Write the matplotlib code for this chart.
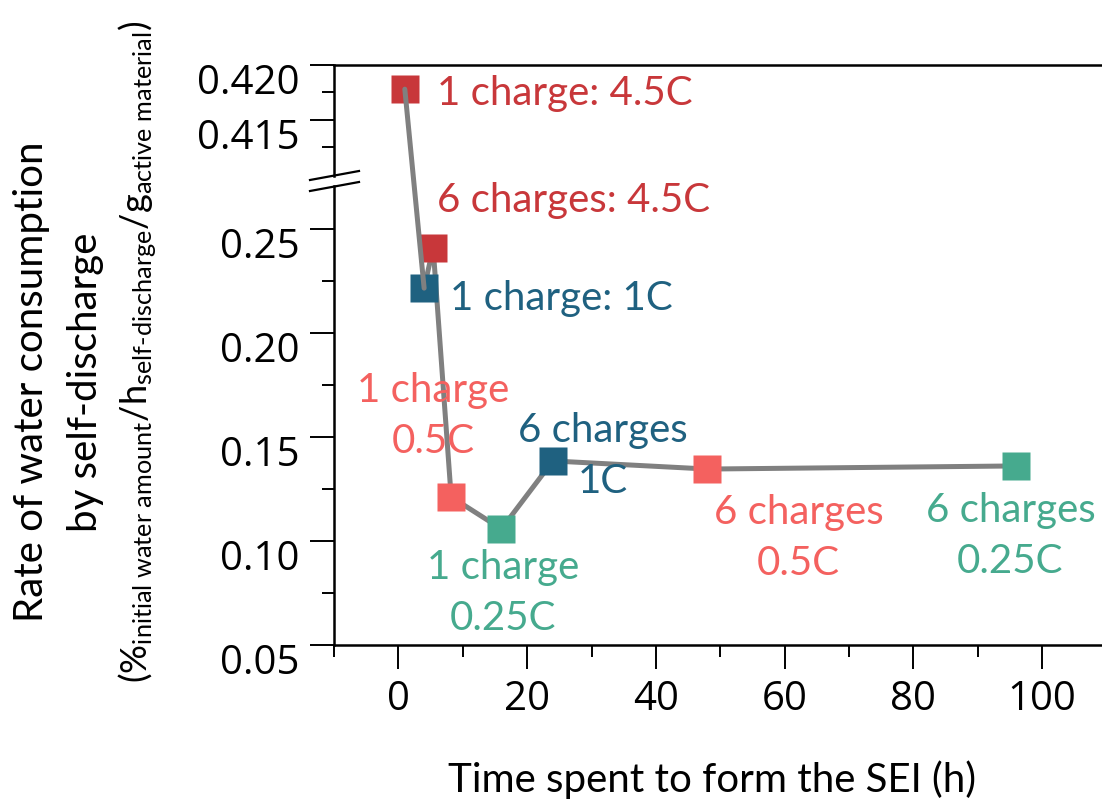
import matplotlib
matplotlib.use('Agg')
from matplotlib import pyplot as plt
from matplotlib.lines import Line2D
from matplotlib.patches import ConnectionPatch
import matplotlib.transforms as mtransforms

# Data
hours = [1, 4, 5.4, 8.2, 16, 24, 48, 96]
rates = [0.4178, 0.2216, 0.241, 0.1212, 0.1058, 0.1385, 0.1346, 0.1361]
labels = ['1 charge: 4.5C', '1 charge: 1C', '6 charges: 4.5C', '1 charge\n0.5C',
          '1 charge\n0.25C', '6 charges\n1C', '6 charges\n0.5C', '6 charges\n0.25C']

RED = '#C8373A'
BLUE = '#1F6180'
PINK = '#F4615F'
GREEN = '#46AA8E'
colors = [RED, BLUE, RED, PINK, GREEN, BLUE, PINK, GREEN]
# label offsets in pixels (dx, dy) and alignment
offsets = [(32, -4, 'left'), (26, -10, 'left'), (4, 47, 'left'), (-18, 81, 'center'),
           (2, -64, 'center'), (50, 5, 'center'), (91, -69, 'center'), (-6, -70, 'center')]

plt.rcParams['font.family'] = ['Lato', 'DejaVu Sans']
plt.rcParams['mathtext.fontset'] = 'custom'
plt.rcParams['mathtext.rm'] = 'Lato'
plt.rcParams['mathtext.it'] = 'Lato'

W, H = 1102, 807
fig = plt.figure(figsize=(W / 100, H / 100), dpi=100)

def px_axes(left, top, right, bottom):
    return fig.add_axes([left / W, 1 - bottom / H, (right - left) / W, (bottom - top) / H])

ax_top = px_axes(334, 65, 1102, 176)
ax = px_axes(334, 186, 1102, 645)

xlim = (-10, 109.3)
for a in (ax_top, ax):
    a.set_xlim(*xlim)
    a.spines['right'].set_visible(False)
    for s in a.spines.values():
        s.set_linewidth(1.8)
    a.tick_params(which='major', direction='out', length=17, width=1.4, labelsize=29, pad=8)
    a.tick_params(which='minor', direction='out', length=8.5, width=1.4)

ax_top.spines['bottom'].set_visible(False)
ax_top.set_ylim(0.4099, 0.420)
ax_top.set_yticks([0.415, 0.420])
ax_top.set_yticks([0.4125, 0.4175], minor=True)
ax_top.set_yticklabels(['0.415', '0.420'])
ax_top.set_xticks([])
ax_top.set_xticks([], minor=True)

ax.spines['top'].set_visible(False)
ax.set_ylim(0.05, 0.2707)
ax.set_yticks([0.05, 0.10, 0.15, 0.20, 0.25])
ax.set_yticks([0.075, 0.125, 0.175, 0.225], minor=True)
ax.set_yticklabels(['0.05', '0.10', '0.15', '0.20', '0.25'])
ax.set_xticks([0, 20, 40, 60, 80, 100])
ax.set_xticks([-10, 10, 30, 50, 70, 90], minor=True)

offset = mtransforms.ScaledTranslation(0, -0.14, fig.dpi_scale_trans)
for a in (ax_top, ax):
    for lab in a.get_yticklabels():
        lab.set_fontfamily('Open Sans')
        lab.set_transform(lab.get_transform() + offset)
for lab in ax.get_xticklabels():
    lab.set_fontfamily('Open Sans')

# line: first segment crosses the axis break
top_idx = [i for i, r in enumerate(rates) if r > 0.3]
low_idx = [i for i, r in enumerate(rates) if r <= 0.3]
con = ConnectionPatch(xyA=(hours[0], rates[0]), coordsA=ax_top.transData,
                      xyB=(hours[1], rates[1]), coordsB=ax.transData,
                      color='#808080', lw=3.6, zorder=1)
fig.add_artist(con)
ax.plot([hours[i] for i in low_idx], [rates[i] for i in low_idx],
        color='#808080', lw=3.6, zorder=2)

for i in range(len(hours)):
    a = ax_top if i in top_idx else ax
    a.plot(hours[i], rates[i], marker='s', ms=20, color=colors[i], mec='none',
           zorder=5, clip_on=False)
    dx, dy, ha = offsets[i]
    a.annotate(labels[i], (hours[i], rates[i]), xytext=(dx, dy), textcoords='offset pixels',
               ha=ha, va='center', color=colors[i], fontsize=29, linespacing=1.45,
               multialignment='center', annotation_clip=False)

# axis break marks
for y0 in (180, 191):
    fig.add_artist(Line2D([310 / W, 359 / W], [1 - y0 / H, 1 - (y0 - 9) / H],
                          transform=fig.transFigure, color='black', lw=1.6))

ax.set_xlabel('Time spent to form the SEI (h)', fontsize=29)
ax.xaxis.set_label_coords((712 - 334) / 768, (645 - 780) / 459)
ax.xaxis.label.set_va('center')

# y label, three lines
fig.text(32 / W, 1 - 382 / H, 'Rate of water consumption', rotation=90,
         ha='center', va='center', fontsize=29)
fig.text(86 / W, 1 - 382 / H, 'by self-discharge', rotation=90,
         ha='center', va='center', fontsize=29)
fig.text(138 / W, 1 - 352 / H,
         r'(%$_{\text{initial water amount}}$/h$_{\text{self-discharge}}$/g$_{\text{active material}}$)',
         rotation=90, ha='center', va='center', fontsize=26)

fig.savefig('out.png', dpi=100)
